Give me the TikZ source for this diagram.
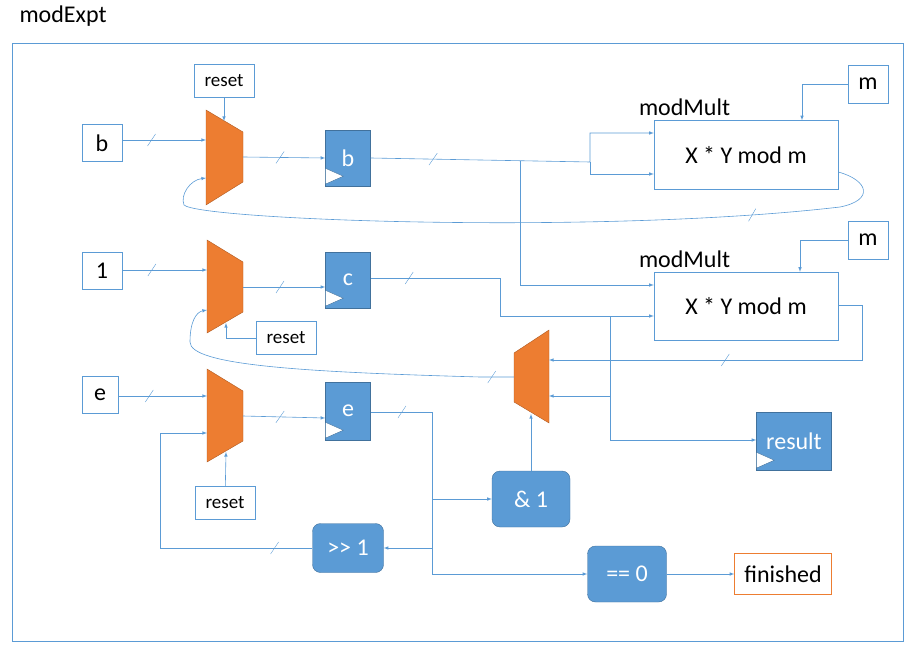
\documentclass[tikz,border=0pt]{standalone}
\usepackage{fontspec}
\setmainfont{Carlito}
\usetikzlibrary{positioning,calc,decorations.markings}
\definecolor{lblue}{HTML}{5B9BD5}
\definecolor{dblue}{HTML}{41719C}
\definecolor{orng}{HTML}{ED7D31}
\definecolor{dorng}{HTML}{AE5A21}
\tikzset{x=1pt, y=-1pt,
        box/.style={draw=lblue, fill=white, inner sep=0pt, font=\fontsize{24}{26}\selectfont}, % plain text boxes
        reg/.style={draw=dblue, fill=lblue, text=white, inner sep=0pt, font=\fontsize{24}{26}\selectfont}, % registers
        op/.style={reg, rounded corners=8pt}, % operator blocks
        mux/.style={draw=dorng, fill=orng},
        wire/.style={draw=lblue, semithick, -latex},
        bus/.style={postaction={decorate, decoration={markings,
            mark=at position #1 with {\draw[lblue, thin, -] (-4pt,-6pt) -- (4pt,6pt);}}}}
        }
\newcommand{\clk}[1]{\draw[dblue, fill=white] ($(#1.south west)+(0,-18)$) -- ++(18,8) -- ($(#1.south west)+(0,-2)$) -- cycle;}
\begin{document}
\begin{tikzpicture}
    \useasboundingbox (0,0) rectangle (915,660);
    \node[anchor=west, font=\fontsize{24}{26}\selectfont] at (16,16) {modExpt};
    \draw[lblue] (12,43) rectangle (903,641);

    % inputs
    \node[box, minimum width=40, minimum height=37] (inb) at (102,143) {b};
    \node[box, minimum width=40, minimum height=37] (in1) at (102,271) {1};
    \node[box, minimum width=36, minimum height=37] (ine) at (100,395) {e};
    \node[box, minimum width=60, minimum height=33, font=\fontsize{19}{21}\selectfont] (rsta) at (224,81) {reset};
    \node[box, minimum width=60, minimum height=33, font=\fontsize{19}{21}\selectfont] (rstb) at (286,338) {reset};
    \node[box, minimum width=60, minimum height=33, font=\fontsize{19}{21}\selectfont] (rstc) at (225,503) {reset};
    \node[box, minimum width=40, minimum height=38] (ma) at (868,84) {m};
    \node[box, minimum width=40, minimum height=38] (mb) at (868,240) {m};

    % muxes
    \draw[mux] (206,110) coordinate (muxa) -- (243,132) -- (243,182) -- (206,205) -- cycle;
    \draw[mux] (207,240) coordinate (muxb) -- (243,262) -- (243,312) -- (207,333) -- cycle;
    \draw[mux] (207,369) coordinate (muxc) -- (243,391) -- (243,441) -- (207,462) -- cycle;
    \draw[mux] (514,353) coordinate (muxd) -- (549,330) -- (549,423) -- (514,402) -- cycle;

    % registers
    \node[reg, minimum width=45, minimum height=56] (rb) at (348,158) {b};
    \node[reg, minimum width=45, minimum height=56] (rc) at (348,280) {c};
    \node[reg, minimum width=45, minimum height=58] (re) at (348,411) {e};
    \node[reg, minimum width=75, minimum height=58] (res) at (794,441) {result};
    \clk{rb} \clk{rc} \clk{re} \clk{res}

    % modMult blocks
    \node[box, minimum width=184, minimum height=69] (mma) at (746,155) {X * Y mod m};
    \node[box, minimum width=184, minimum height=68] (mmb) at (746,306) {X * Y mod m};
    \node[anchor=south west, font=\fontsize{24}{26}\selectfont, inner sep=1pt] at (mma.north west) [xshift=-16, yshift=3] {modMult};
    \node[anchor=south west, font=\fontsize{24}{26}\selectfont, inner sep=1pt] at (mmb.north west) [xshift=-16, yshift=3] {modMult};

    % operators
    \node[op, minimum width=78, minimum height=56] (and) at (531,499) {\& 1};
    \node[op, minimum width=71, minimum height=49] (shr) at (348,548) {{>}{>} 1};
    \node[op, minimum width=79, minimum height=56] (eqz) at (627,574) {== 0};
    \node[box, draw=orng, minimum width=97, minimum height=41] (fin) at (783,574) {finished};

    % b path
    \draw[wire, bus=0.35] (inb.east|-0,140) -- (206,140);
    \draw[wire] (rsta) -- (224,121);
    \draw[wire, bus=0.45] (243,157) -- (rb.west|-0,158);
    \draw[wire, bus=0.2] (rb.east|-0,158) -- (590,162) |- (mma.west|-0,133);
    \draw[wire] (590,162) |- (mma.west|-0,174);
    \draw[wire] (520,161) |- (mmb.west|-0,285);
    \draw[wire] (ma.west) -| (mma.north-|802,0);
    \draw[wire, bus=0.2] (mma.east|-0,172) .. controls (868,180) and (875,200) .. (840,207)
        .. controls (600,235) and (200,220) .. (184,205) .. controls (180,195) and (190,180) .. (206,178);

    % c path
    \draw[wire, bus=0.35] (in1.east|-0,270) -- (207,270);
    \draw[wire] (rstb.west) -| (226,323);
    \draw[wire, bus=0.45] (243,287) -- (rc.west|-0,287);
    \draw[wire, bus=0.12] (rc.east|-0,278) -- (500,278) |- (mmb.west|-0,316);
    \draw[wire] (610,316) |- (549,396);
    \draw[wire] (610,396) |- (res.west|-0,440);
    \draw[wire] (mb.west) -| (mmb.north-|800,0);
    \draw[wire, bus=0.55] (mmb.east|-0,305) -- (862,305) |- (549,360);
    \draw[wire, bus=0.06] (514,377) -- (480,377) .. controls (300,372) and (190,365) .. (190,342)
        .. controls (190,322) and (196,312) .. (207,310);

    % e path
    \draw[wire, bus=0.35] (ine.east|-0,396) -- (207,396);
    \draw[wire] (rstc) -- (226,452);
    \draw[wire, bus=0.45] (243,416) -- (re.west|-0,418);
    \draw[wire, bus=0.15] (re.east|-0,412) -- (432,412) |- (and.west);
    \draw[wire] (432,500) |- (shr.east);
    \draw[wire] (432,548) |- (eqz.west);
    \draw[wire, bus=0.12] (shr.west) -| (160,433) -- (207,433);
    \draw[wire] (and.north) -- (531,414);
    \draw[wire] (eqz.east) -- (fin.west);
\end{tikzpicture}
\end{document}
